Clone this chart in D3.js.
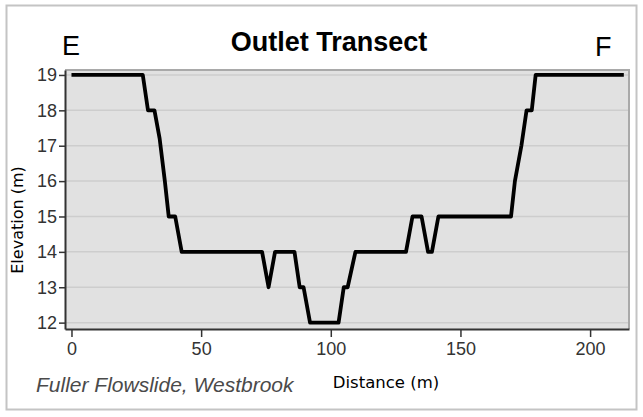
<!DOCTYPE html>
<html>
<head>
<meta charset="utf-8">
<script src="https://cdn.jsdelivr.net/npm/d3@7"></script>
<style>
  html, body { margin: 0; padding: 0; background: #fff; }
  svg { display: block; }
</style>
</head>
<body>
<div id="transect-container"><svg></svg></div>
<script>
// Survey points along the transect
var distances = [0, 27.5, 29.5, 32, 34, 36, 37.5, 40, 42.5, 73.5, 76, 78.5, 86, 88, 89.5, 92, 103, 105, 106.5, 109.5, 129, 131.5, 135, 137.5, 139, 141.5, 169.5, 171, 173.5, 175.5, 177.5, 179, 213];
var elevations = [19, 19, 18, 18, 17.2, 16, 15, 15, 14, 14, 13, 14, 14, 13, 13, 12, 12, 13, 13, 14, 14, 15, 15, 14, 14, 15, 15, 16, 17, 18, 18, 19, 19];

var xTicks = [0, 50, 100, 150, 200];
var yTicks = [12, 13, 14, 15, 16, 17, 18, 19];

function CreateTransectChart() {
    var svgWidth = 643;
    var svgHeight = 417;
    var plot = {l: 65, r: 629, t: 70, b: 329};

    var data = distances.map((d, i) => ({dist: d, elev: elevations[i]}));

    const svg = d3.select('#transect-container > svg')
        .attr('width', svgWidth)
        .attr('height', svgHeight);

    // Outer frame
    svg.append('rect')
        .attr('x', 6.5).attr('y', 5.5)
        .attr('width', 630).attr('height', 404)
        .attr('fill', '#fff')
        .attr('stroke', '#c4c4c4')
        .attr('stroke-width', 2);

    var xScale = d3.scaleLinear()
        .domain([-2.5, 215])
        .range([plot.l, plot.r]);

    var yScale = d3.scaleLinear()
        .domain([11.82, 19.14])
        .range([plot.b, plot.t]);

    // Plot background
    svg.append('rect')
        .attr('x', plot.l).attr('y', plot.t)
        .attr('width', plot.r - plot.l).attr('height', plot.b - plot.t)
        .attr('fill', '#e1e1e1');

    // Gridlines
    svg.append('g')
        .selectAll('line')
        .data(yTicks)
        .enter()
        .append('line')
        .attr('x1', plot.l).attr('x2', plot.r)
        .attr('y1', d => yScale(d)).attr('y2', d => yScale(d))
        .attr('stroke', '#cdcdcd')
        .attr('stroke-width', 1.5);

    // Top and right border
    svg.append('path')
        .attr('d', 'M' + plot.l + ',' + plot.t + 'H' + plot.r + 'V' + plot.b)
        .attr('fill', 'none')
        .attr('stroke', '#a9a9a9')
        .attr('stroke-width', 2);

    // Elevation line
    var line = d3.line()
        .x(d => xScale(d.dist))
        .y(d => yScale(d.elev));

    svg.append('path')
        .datum(data)
        .attr('d', line)
        .attr('fill', 'none')
        .attr('stroke', '#000')
        .attr('stroke-width', 3.8)
        .attr('stroke-linejoin', 'round')
        .attr('stroke-linecap', 'butt');

    // Axes
    var xAxis = svg.append('g')
        .attr('transform', 'translate(0,' + plot.b + ')')
        .call(d3.axisBottom(xScale).tickValues(xTicks).tickSize(8).tickPadding(5).tickSizeOuter(0));
    var yAxis = svg.append('g')
        .attr('transform', 'translate(' + plot.l + ',0)')
        .call(d3.axisLeft(yScale).tickValues(yTicks).tickSize(6).tickPadding(2).tickSizeOuter(0));

    [xAxis, yAxis].forEach(g => {
        g.select('.domain').attr('stroke', '#333').attr('stroke-width', 2);
        g.selectAll('.tick line').attr('stroke', '#333').attr('stroke-width', 1.5);
        g.selectAll('.tick text')
            .attr('fill', '#333')
            .attr('font-family', 'Liberation Sans, Arial, sans-serif')
            .attr('font-size', '18px');
    });

    // Title and end labels
    svg.append('text')
        .attr('x', 329).attr('y', 51)
        .attr('text-anchor', 'middle')
        .attr('font-family', 'Liberation Sans, Arial, sans-serif')
        .attr('font-weight', 'bold')
        .attr('font-size', '27px')
        .text('Outlet Transect');

    svg.append('text')
        .attr('x', 62).attr('y', 55)
        .attr('font-family', 'Liberation Sans, Arial, sans-serif')
        .attr('font-size', '27px')
        .text('E');

    svg.append('text')
        .attr('x', 595).attr('y', 56)
        .attr('font-family', 'Liberation Sans, Arial, sans-serif')
        .attr('font-size', '27px')
        .text('F');

    // Axis titles
    svg.append('text')
        .attr('x', 386).attr('y', 388)
        .attr('text-anchor', 'middle')
        .attr('font-family', 'DejaVu Sans, sans-serif')
        .attr('font-size', '16.5px')
        .text('Distance (m)');

    svg.append('text')
        .attr('transform', 'translate(23,220) rotate(-90)')
        .attr('text-anchor', 'middle')
        .attr('font-family', 'DejaVu Sans, sans-serif')
        .attr('font-size', '16px')
        .text('Elevation (m)');

    // Source note
    svg.append('text')
        .attr('x', 36).attr('y', 392)
        .attr('fill', '#4a4a4a')
        .attr('font-family', 'Liberation Sans, Arial, sans-serif')
        .attr('font-style', 'italic')
        .attr('font-size', '21px')
        .text('Fuller Flowslide, Westbrook');
}

CreateTransectChart();
</script>
</body>
</html>
